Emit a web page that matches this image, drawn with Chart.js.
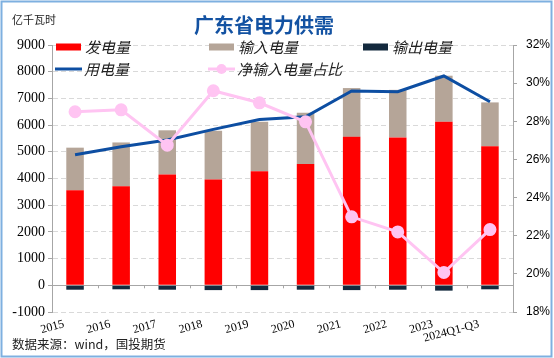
<!DOCTYPE html>
<html><head><meta charset="utf-8">
<script src="https://cdn.jsdelivr.net/npm/chart.js@4.4.0/dist/chart.umd.min.js"></script>
<style>html,body{margin:0;padding:0;background:#fff;} canvas{display:block;}</style>
</head><body>
<canvas id="c" width="554" height="358"></canvas>
<script>
const categories = ['2015','2016','2017','2018','2019','2020','2021','2022','2023','2024Q1-Q3'];
const generation = [3560,3710,4150,3960,4275,4540,5560,5540,6125,5210];
const importPower = [1595,1640,1655,1827,1850,1922,1827,1780,1725,1640];
const exportPower = [-165,-150,-165,-180,-180,-165,-180,-165,-200,-150];
const consumption = [4890,5190,5440,5840,6210,6310,7275,7250,7840,6875];
const netImportShare = [28.5,28.6,26.75,29.6,28.97,27.97,22.99,22.2,20.07,22.32];
const leftAxis = {min:-1000, max:9000, step:1000};
const rightAxis = {min:18, max:32, step:2};
const titleText = '广东省电力供需';
const unitText = '亿千瓦时';
const sourceText = '数据来源：wind，国投期货';

const C_RED = '#FF0000', C_GREY = '#B5A598', C_NAVY = '#13293D', C_BLUE = '#0D4EA2', C_PINK = '#FFC4F2';
const CJK = '"Noto Sans CJK SC", sans-serif';

const decor = {
  id: 'decor',
  beforeDatasetsDraw(chart) {
    const ctx = chart.ctx, xs = chart.scales.x, ys = chart.scales.y;
    const y0 = ys.getPixelForValue(0);
    ctx.save();
    ctx.strokeStyle = '#A6A6A6'; ctx.lineWidth = 1;
    for (let i = 0; i <= categories.length; i++) {
      const x = Math.round(xs.getPixelForValue(i - 0.5)) + 0.5;
      ctx.beginPath(); ctx.moveTo(x, y0); ctx.lineTo(x, y0 + 3); ctx.stroke();
    }
    ctx.restore();
  },
  afterDraw(chart) {
    const ctx = chart.ctx;
    ctx.save();
    ctx.strokeStyle = '#7EB0E0'; ctx.lineWidth = 2;
    ctx.strokeRect(1.5, 1.5, 550, 355);
    ctx.fillStyle = '#1352A2'; ctx.font = 'bold 20px ' + CJK;
    ctx.textAlign = 'center'; ctx.textBaseline = 'middle';
    ctx.fillText(titleText, 264, 25);
    ctx.fillStyle = '#222'; ctx.font = '11px ' + CJK; ctx.textAlign = 'left';
    ctx.fillText(unitText, 12, 20);
    ctx.font = '12.5px ' + CJK;
    ctx.fillText(sourceText, 12, 344);
    ctx.font = 'italic 15px ' + CJK;
    const r1 = 47, r2 = 69;
    const items = [
      {t:'发电量', x:56, y:r1, kind:'box', c:C_RED},
      {t:'输入电量', x:209, y:r1, kind:'box', c:C_GREY},
      {t:'输出电量', x:363, y:r1, kind:'box', c:C_NAVY},
      {t:'用电量', x:55, y:r2, kind:'line', c:C_BLUE},
      {t:'净输入电量占比', x:208, y:r2, kind:'dot', c:C_PINK}
    ];
    items.forEach(it => {
      if (it.kind === 'box') {
        ctx.fillStyle = it.c; ctx.fillRect(it.x, it.y - 3.5, 25, 7);
      } else {
        ctx.strokeStyle = it.c; ctx.lineWidth = 3;
        ctx.beginPath(); ctx.moveTo(it.x, it.y); ctx.lineTo(it.x + 27, it.y); ctx.stroke();
        if (it.kind === 'dot') {
          ctx.fillStyle = it.c; ctx.beginPath(); ctx.arc(it.x + 13.5, it.y, 5, 0, Math.PI * 2); ctx.fill();
        }
      }
      ctx.fillStyle = '#222';
      ctx.fillText(it.t, it.x + 29, it.y);
    });
    ctx.restore();
  }
};

new Chart(document.getElementById('c'), {
  data: {
    labels: categories,
    datasets: [
      {type:'line', label:'净输入电量占比', data: netImportShare, yAxisID:'y1', borderColor:C_PINK, backgroundColor:C_PINK,
       borderWidth:3, pointRadius:5, pointBackgroundColor:C_PINK, pointBorderColor:C_PINK, order:0, stack:'s2', tension:0},
      {type:'line', label:'用电量', data: consumption, yAxisID:'y', borderColor:C_BLUE, backgroundColor:C_BLUE,
       borderWidth:3, pointRadius:0, order:1, stack:'s1', tension:0},
      {type:'bar', label:'发电量', data: generation, yAxisID:'y', backgroundColor:C_RED, order:2, stack:'bars'},
      {type:'bar', label:'输入电量', data: importPower, yAxisID:'y', backgroundColor:C_GREY, order:3, stack:'bars'},
      {type:'bar', label:'输出电量', data: exportPower, yAxisID:'y', backgroundColor:C_NAVY, order:4, stack:'bars'}
    ]
  },
  options: {
    responsive: false, animation: false, devicePixelRatio: 1,
    barPercentage: 0.38, categoryPercentage: 1.0,
    layout: {padding: {top: 45, left: 0, right: 0, bottom: 0}},
    plugins: {legend: {display: false}, tooltip: {enabled: false}, title: {display: false}},
    scales: {
      x: {stacked: true, offset: true, grid: {display: false}, border: {display: false},
          ticks: {font: {family: 'Liberation Serif', size: 12}, color: '#000', minRotation: 15, maxRotation: 15,
                  padding: -3, labelOffset: -11, autoSkip: false},
          afterFit: s => { s.height = 46; }},
      y: {stacked: true, position: 'left', min: leftAxis.min, max: leftAxis.max,
          ticks: {stepSize: leftAxis.step, callback: v => String(v), font: {family: 'Liberation Serif', size: 14}, color: '#000', padding: 3},
          grid: {color: c => (c.tick && c.tick.value === 0) ? '#A6A6A6' : '#D9D9D9', tickColor: '#A6A6A6',
                 tickLength: 4, lineWidth: 1, tickBorderDash: []},
          border: {display: true, color: '#A6A6A6', width: 1, dash: c => (c.tick && c.tick.value === 0) ? [] : [5, 3]},
          afterFit: s => { s.width = 52; }},
      y1: {position: 'right', min: rightAxis.min, max: rightAxis.max,
           ticks: {stepSize: rightAxis.step, callback: v => v + '%', font: {family: 'Liberation Sans', size: 12}, color: '#000', padding: 9},
           grid: {drawOnChartArea: false, tickLength: 4, color: '#A6A6A6'},
           border: {display: true, color: '#A6A6A6', width: 1},
           afterFit: s => { s.width = 41; }}
    }
  },
  plugins: [decor]
});
</script>
</body></html>
